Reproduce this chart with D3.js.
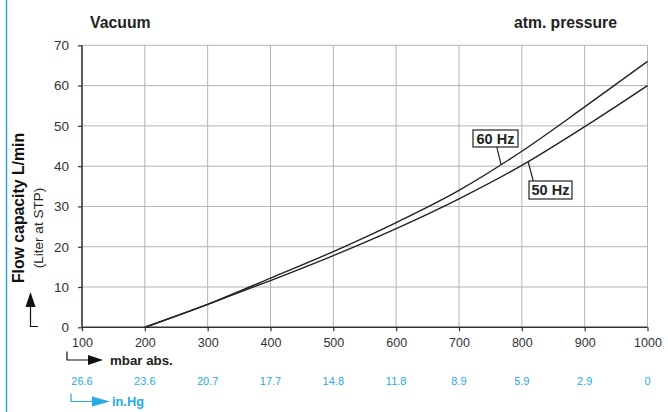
<!DOCTYPE html>
<html>
<head>
<meta charset="utf-8">
<style>
  body { margin: 0; background: #fff; }
  svg { display: block; font-family: "Liberation Sans", Arial, sans-serif; }
</style>
</head>
<body>
<div id="chart"></div>
<script src="https://d3js.org/d3.v7.min.js"></script>
<script>
// values
const pressure = [200, 300, 400, 500, 600, 700, 800, 900, 1000];   // mbar abs.
const flow60 = [0, 5.7, 12.2, 18.8, 26.0, 34.0, 43.7, 54.7, 66.0];  // 60 Hz
const flow50 = [0, 5.7, 11.6, 17.8, 24.5, 31.9, 40.2, 49.8, 60.0];  // 50 Hz
const mbarTicks = [100, 200, 300, 400, 500, 600, 700, 800, 900, 1000];
const inHgLabels = ["26.6", "23.6", "20.7", "17.7", "14.8", "11.8", "8.9", "5.9", "2.9", "0"];
const flowTicks = [0, 10, 20, 30, 40, 50, 60, 70];

const width = 668, height = 412;
const blue = "#27aae1";

const svg = d3.select("#chart").append("svg")
  .attr("width", width)
  .attr("height", height);

const x = d3.scaleLinear().domain([100, 1000]).range([82, 647.5]);
const y = d3.scaleLinear().domain([0, 70]).range([327.3, 45.3]);

// blue page rule at left
svg.append("line")
  .attr("x1", 6.5).attr("x2", 6.5).attr("y1", 0).attr("y2", height)
  .attr("stroke", blue).attr("stroke-width", 1.5);

// grid
const grid = svg.append("g").attr("stroke", "#b3b3b3").attr("stroke-width", 1);
grid.selectAll("line.v").data(mbarTicks.slice(1)).join("line")
  .attr("x1", d => x(d)).attr("x2", d => x(d))
  .attr("y1", y(0)).attr("y2", y(70));
grid.selectAll("line.h").data(flowTicks.slice(1)).join("line")
  .attr("x1", x(100)).attr("x2", x(1000))
  .attr("y1", d => y(d)).attr("y2", d => y(d));

// axes
const xAxis = svg.append("g")
  .attr("transform", `translate(0,${y(0)})`)
  .call(d3.axisBottom(x).tickValues(mbarTicks).tickSize(4).tickPadding(7).tickFormat(d3.format("d")));
const yAxis = svg.append("g")
  .attr("transform", `translate(${x(100)},0)`)
  .call(d3.axisLeft(y).tickValues(flowTicks).tickSize(4).tickPadding(9));

[xAxis, yAxis].forEach(a => {
  a.select(".domain").attr("stroke", "#333").attr("stroke-width", 1.6);
  a.selectAll(".tick line").attr("stroke", "#333").attr("stroke-width", 1.2);
  a.selectAll(".tick text").attr("fill", "#333")
    .style("font-family", "'Liberation Sans', Arial, sans-serif");
});
xAxis.selectAll(".tick text").style("font-size", "12.5px");
yAxis.selectAll(".tick text").style("font-size", "13.5px");
xAxis.select(".domain").attr("d", `M${x(100)},0H${x(1000)}`);
yAxis.select(".domain").attr("d", `M0,${y(0)}V${y(70)}`);

// in.Hg labels
svg.append("g").selectAll("text").data(inHgLabels).join("text")
  .attr("x", (d, i) => x(mbarTicks[i]))
  .attr("y", 385)
  .attr("text-anchor", "middle")
  .attr("fill", blue)
  .style("font-size", "11px")
  .text(d => d);

// curves
const line = d3.line().x((d, i) => x(pressure[i])).y(d => y(d)).curve(d3.curveMonotoneX);
[flow60, flow50].forEach(s => {
  svg.append("path").datum(s)
    .attr("d", line)
    .attr("fill", "none")
    .attr("stroke", "#222")
    .attr("stroke-width", 1.4);
});

// frequency labels with leaders
function box(text, left, top, w, h) {
  svg.append("rect").attr("x", left).attr("y", top).attr("width", w).attr("height", h)
    .attr("fill", "#fff").attr("stroke", "#222").attr("stroke-width", 1.2);
  svg.append("text").attr("x", left + w / 2).attr("y", top + h / 2 + 5)
    .attr("text-anchor", "middle").attr("font-weight", "bold")
    .style("font-size", "14.5px").attr("fill", "#222").text(text);
}
// 60 Hz
svg.append("line").attr("x1", 496.7).attr("y1", 146.7)
  .attr("x2", x(767)).attr("y2", y(40.4))
  .attr("stroke", "#222").attr("stroke-width", 1.2);
box("60 Hz", 473, 130, 45, 17);
// 50 Hz
svg.append("line").attr("x1", 533.3).attr("y1", 181)
  .attr("x2", x(810)).attr("y2", y(41.1))
  .attr("stroke", "#222").attr("stroke-width", 1.2);
box("50 Hz", 529, 181, 43, 18);

// titles
svg.append("text").attr("x", 90).attr("y", 28)
  .attr("font-weight", "bold").style("font-size", "15.8px").attr("fill", "#222").text("Vacuum");
svg.append("text").attr("x", 514).attr("y", 27.5)
  .attr("font-weight", "bold").style("font-size", "15.7px").attr("fill", "#222").text("atm. pressure");

// y axis title
svg.append("text")
  .attr("transform", "translate(24,208) rotate(-90)")
  .attr("text-anchor", "middle").attr("font-weight", "bold")
  .style("font-size", "15.8px").attr("fill", "#111").text("Flow capacity L/min");
svg.append("text")
  .attr("transform", "translate(43,228) rotate(-90)")
  .attr("text-anchor", "middle")
  .style("font-size", "13.5px").attr("fill", "#222").text("(Liter at STP)");

// y arrow
svg.append("path").attr("d", "M38,326.5H30.5V306")
  .attr("fill", "none").attr("stroke", "#111").attr("stroke-width", 1.2);
svg.append("path").attr("d", "M30.5,292L35.5,307H25.5Z").attr("fill", "#111");

// mbar arrow
svg.append("path").attr("d", "M67,351.5V360H89")
  .attr("fill", "none").attr("stroke", "#111").attr("stroke-width", 1.2);
svg.append("path").attr("d", "M103,360L88,355V365Z").attr("fill", "#111");
svg.append("text").attr("x", 110).attr("y", 364.5)
  .attr("font-weight", "bold").style("font-size", "13.3px").attr("fill", "#222").text("mbar abs.");

// in.Hg arrow
svg.append("path").attr("d", "M71,393.5V401.5H93")
  .attr("fill", "none").attr("stroke", blue).attr("stroke-width", 1.2);
svg.append("path").attr("d", "M110,401.5L92,396.5V406.5Z").attr("fill", blue);
svg.append("text").attr("x", 112).attr("y", 406)
  .attr("font-weight", "bold").style("font-size", "12.8px").attr("fill", blue).text("in.Hg");
</script>
</body>
</html>
